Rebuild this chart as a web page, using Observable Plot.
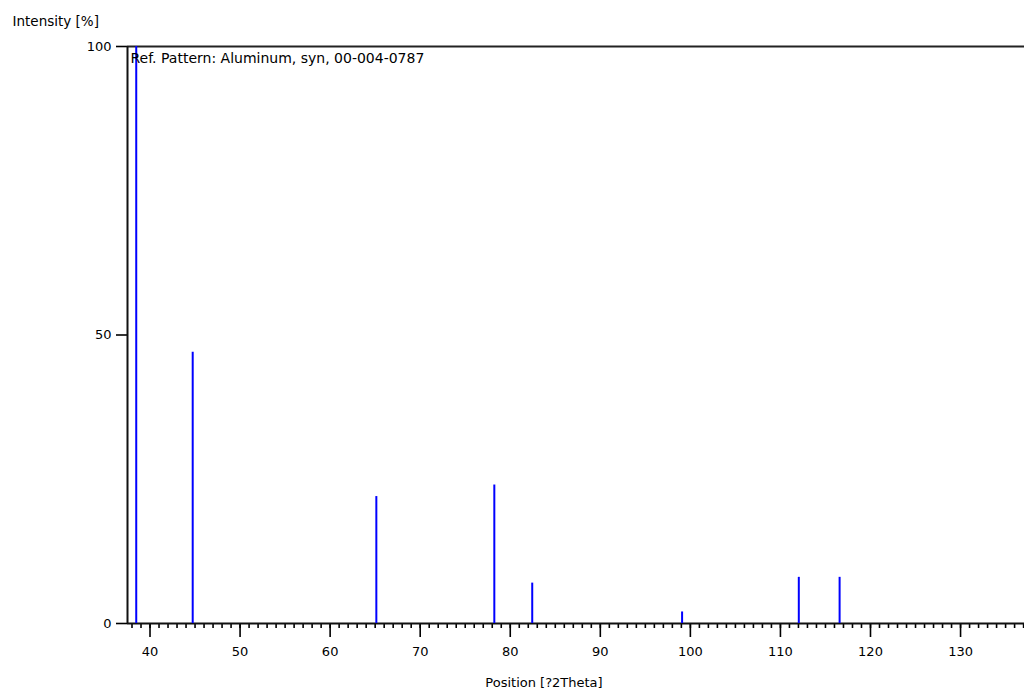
<!DOCTYPE html>
<html><head><meta charset="utf-8">
<script src="https://cdn.jsdelivr.net/npm/d3@7"></script>
<script src="https://cdn.jsdelivr.net/npm/@observablehq/plot@0.6"></script>
<style>body{margin:0;background:#fff} svg{display:block}</style>
</head><body><div id="chart"></div>
<script>
const positions = [38.47, 44.74, 65.13, 78.23, 82.44, 99.08, 112.04, 116.57];
const intensities = [100, 47, 22, 24, 7, 2, 8, 8];
const xMajorTicks = [40, 50, 60, 70, 80, 90, 100, 110, 120, 130];
const xMinorTicks = d3.range(38, 138, 1);
const yTicks = [0, 50, 100];
const xDomain = [37.5, 137.5];
const yDomain = [0, 100];
const title = "Ref. Pattern: Aluminum, syn, 00-004-0787";
const xLabel = "Position [?2Theta]";
const yLabel = "Intensity [%]";

const peaks = positions.map((p, i) => ({pos: p, intensity: intensities[i]}));

const chart = Plot.plot({
  width: 1024, height: 697,
  marginLeft: 127, marginRight: 0, marginTop: 46, marginBottom: 74,
  style: {fontFamily: "'DejaVu Sans', sans-serif", fontSize: "13px", color: "#000", background: "#fff", overflow: "hidden"},
  x: {domain: xDomain, range: [127, 127 + 100 * 9.006]},
  y: {domain: yDomain},
  marks: [
    Plot.axisX({ticks: xMinorTicks, tickSize: 5, text: null, label: null, strokeWidth: 1.6}),
    Plot.axisX({ticks: xMajorTicks, tickSize: 14, tickPadding: 9, label: null, strokeWidth: 1.6, tickFormat: d => String(d)}),
    Plot.axisY({ticks: yTicks, tickSize: 11, tickPadding: 5, label: null, strokeWidth: 1.6}),
    Plot.ruleY([yDomain[0]], {stroke: "#111", strokeWidth: 2}),
    Plot.ruleY([yDomain[1]], {stroke: "#222", strokeWidth: 2}),
    Plot.ruleX([xDomain[0]], {stroke: "#111", strokeWidth: 2}),
    Plot.ruleX(peaks, {x: "pos", y1: 0, y2: "intensity", stroke: "#0000ff", strokeWidth: 2}),
    Plot.text([title], {text: d => d, frameAnchor: "top-left", textAnchor: "start", lineAnchor: "top", dx: 3, dy: 7, fontSize: 14}),
    Plot.text([yLabel], {text: d => d, frameAnchor: "top-left", textAnchor: "start", lineAnchor: "top", dx: -115, dy: -30, fontSize: 13.5}),
    Plot.text([xLabel], {text: d => d, frameAnchor: "bottom", textAnchor: "middle", lineAnchor: "top", dx: -32, dy: 54, fontSize: 13})
  ]
});
document.getElementById("chart").appendChild(chart);
</script>
</body></html>
